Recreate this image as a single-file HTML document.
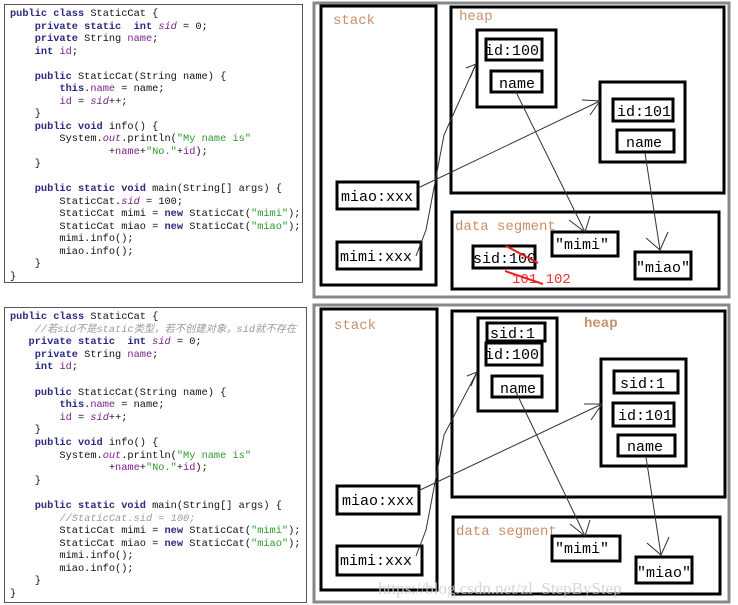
<!DOCTYPE html>
<html><head><meta charset="utf-8"><style>
html,body{margin:0;padding:0;background:#fff;width:738px;height:605px;overflow:hidden;position:relative}
pre{position:absolute;margin:0;font-family:"Liberation Mono","Noto Sans CJK SC",monospace;font-size:10.3px;line-height:12.5px;color:#111;border:1px solid #555;box-sizing:border-box;padding:3px 0 0 5px;background:#fff}
.k{color:#2a2a80;font-weight:bold}.f{color:#7a1f8a}.i{color:#7a1f8a;font-style:italic}.st{color:#2a9a2a}.c{color:#9a9a9a;font-style:italic}
</style></head><body>
<pre style="left:4px;top:4px;width:299px;height:279px"><span class="k">public class</span> StaticCat {
    <span class="k">private static</span>  <span class="k">int</span> <span class="i">sid</span> = 0;
    <span class="k">private</span> String <span class="f">name</span>;
    <span class="k">int</span> <span class="f">id</span>;

    <span class="k">public</span> StaticCat(String name) {
        <span class="k">this</span>.<span class="f">name</span> = name;
        <span class="f">id</span> = <span class="i">sid</span>++;
    }
    <span class="k">public void</span> info() {
        System.<span class="i">out</span>.println(<span class="st">"My name is"</span>
                +<span class="f">name</span>+<span class="st">"No."</span>+<span class="f">id</span>);
    }

    <span class="k">public static void</span> main(String[] args) {
        StaticCat.<span class="i">sid</span> = 100;
        StaticCat mimi = <span class="k">new</span> StaticCat(<span class="st">"mimi"</span>);
        StaticCat miao = <span class="k">new</span> StaticCat(<span class="st">"miao"</span>);
        mimi.info();
        miao.info();
    }
}</pre>
<pre style="left:4px;top:307px;width:303px;height:296px;line-height:12.6px"><span class="k">public class</span> StaticCat {
    <span class="c">//若sid不是static类型，若不创建对象，sid就不存在</span>
   <span class="k">private static</span>  <span class="k">int</span> <span class="i">sid</span> = 0;
    <span class="k">private</span> String <span class="f">name</span>;
    <span class="k">int</span> <span class="f">id</span>;

    <span class="k">public</span> StaticCat(String name) {
        <span class="k">this</span>.<span class="f">name</span> = name;
        <span class="f">id</span> = <span class="i">sid</span>++;
    }
    <span class="k">public void</span> info() {
        System.<span class="i">out</span>.println(<span class="st">"My name is"</span>
                +<span class="f">name</span>+<span class="st">"No."</span>+<span class="f">id</span>);
    }

    <span class="k">public static void</span> main(String[] args) {
        <span class="c">//StaticCat.sid = 100;</span>
        StaticCat mimi = <span class="k">new</span> StaticCat(<span class="st">"mimi"</span>);
        StaticCat miao = <span class="k">new</span> StaticCat(<span class="st">"miao"</span>);
        mimi.info();
        miao.info();
    }
}</pre>
<svg width="738" height="605" style="position:absolute;left:0;top:0" font-family="Liberation Mono, monospace">
<g fill="none" stroke="#000" stroke-width="3">
<rect x="314" y="3" width="415" height="294" stroke="#888"/>
<rect x="321" y="6" width="115" height="279"/>
<rect x="451" y="7" width="273" height="186"/>
<rect x="477" y="30" width="79" height="77"/>
<rect x="486" y="39" width="56" height="21"/>
<rect x="491" y="71" width="51" height="21"/>
<rect x="600" y="82" width="85" height="80"/>
<rect x="613" y="99" width="60" height="22"/>
<rect x="617" y="130" width="57" height="22"/>
<rect x="337" y="182" width="81" height="27"/>
<rect x="337" y="242" width="84" height="27"/>
<rect x="452" y="212" width="267" height="77"/>
<rect x="552" y="232" width="66" height="24"/>
<rect x="635" y="252" width="56" height="27"/>
<rect x="473" y="246" width="62" height="22"/>

<rect x="314" y="305" width="415" height="297" stroke="#888"/>
<rect x="321" y="309" width="116" height="281"/>
<rect x="452" y="311" width="273" height="186"/>
<rect x="478" y="318" width="79" height="93"/>
<rect x="487" y="323" width="58" height="18"/>
<rect x="486" y="343" width="56" height="22"/>
<rect x="492" y="376" width="50" height="21"/>
<rect x="601" y="359" width="85" height="107"/>
<rect x="614" y="371" width="64" height="22"/>
<rect x="613" y="403" width="61" height="23"/>
<rect x="618" y="435" width="57" height="21"/>
<rect x="337" y="486" width="82" height="28"/>
<rect x="337" y="546" width="85" height="29"/>
<rect x="453" y="517" width="267" height="77"/>
<rect x="552" y="536" width="68" height="25"/>
<rect x="636" y="557" width="56" height="26"/>
</g>
<g font-size="14" fill="#c8906a">
<text x="333" y="24">stack</text><text x="459" y="20">heap</text><text x="455" y="230">data segment</text>
<text x="334" y="329">stack</text><text x="584" y="327" font-weight="bold">heap</text><text x="456" y="535">data segment</text>
</g>
<g font-size="15" fill="#000">
<text x="485" y="55">id:100</text><text x="499" y="88">name</text>
<text x="617" y="116">id:101</text><text x="626" y="147">name</text>
<text x="341" y="201">miao:xxx</text><text x="340" y="261">mimi:xxx</text>
<text x="555" y="249">"mimi"</text><text x="636" y="272">"miao"</text>
<text x="473" y="263">sid:100</text>
<text x="490" y="338">sid:1</text><text x="485" y="359">id:100</text><text x="500" y="393">name</text>
<text x="620" y="388">sid:1</text><text x="618" y="420">id:101</text><text x="627" y="451">name</text>
<text x="342" y="505">miao:xxx</text><text x="340" y="565">mimi:xxx</text>
<text x="555" y="553">"mimi"</text><text x="637" y="577">"miao"</text>
</g>
<text x="512" y="283" font-size="14" fill="#f03030">101 102</text>
<g stroke="#f02020" stroke-width="2"><line x1="506" y1="246" x2="538" y2="263"/><line x1="505" y1="271" x2="543" y2="284"/></g>
<g stroke="#333" stroke-width="1" fill="none">
<path d="M416 256 L426 230 L444 135 L476 64"/><path d="M466 68 L476 64 L470 78"/>
<path d="M418 188 L600 101"/><path d="M582 100 L600 101 L590 115"/>
<path d="M515 90 L585 232"/><path d="M569 220 L585 232 L590 216"/>
<path d="M645 153 L660 250"/><path d="M646 238 L660 250 L668 232"/>
<path d="M416 556 L426 530 L444 435 L477 372"/><path d="M467 376 L477 372 L471 386"/>
<path d="M418 491 L602 404"/><path d="M584 404 L602 404 L591 420"/>
<path d="M516 392 L585 536"/><path d="M570 524 L585 536 L590 520"/>
<path d="M646 457 L661 555"/><path d="M647 543 L661 555 L669 537"/>
</g>
<text x="378" y="594" font-family="Liberation Serif, serif" font-size="17" fill="#ccc" opacity="0.8">https://blog.csdn.net/zl_StepByStep</text>
</svg>
</body></html>
